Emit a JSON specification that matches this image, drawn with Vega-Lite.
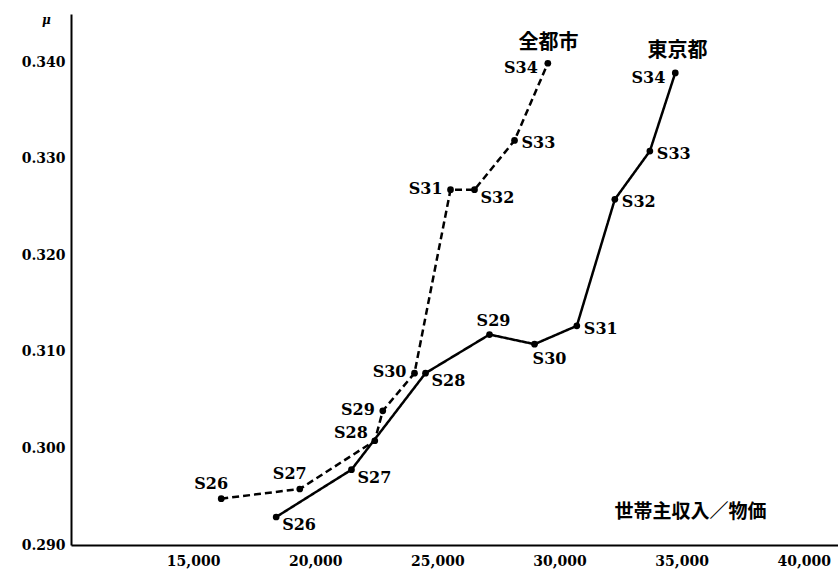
{
  "$schema": "https://vega.github.io/schema/vega-lite/v6.json",
  "width": 767,
  "height": 531,
  "autosize": {"type": "none"},
  "padding": {"left": 71, "top": 14, "right": 0, "bottom": 31},
  "background": "white",
  "config": {
    "view": {"stroke": null},
    "axis": {
      "grid": false,
      "domainColor": "black",
      "domainWidth": 2,
      "ticks": false,
      "labelColor": "black",
      "labelFont": "DejaVu Serif",
      "labelFontWeight": "bold",
      "labelFontSize": 14
    },
    "text": {"font": "DejaVu Serif", "fontWeight": "bold", "fontSize": 16, "color": "black", "baseline": "middle"}
  },
  "datasets": {
    "income": [
      {"series": "全都市", "year": "S26", "income": 16150, "mu": 0.2948},
      {"series": "全都市", "year": "S27", "income": 19365, "mu": 0.2958},
      {"series": "全都市", "year": "S28", "income": 22437, "mu": 0.3008},
      {"series": "全都市", "year": "S29", "income": 22764, "mu": 0.3039},
      {"series": "全都市", "year": "S30", "income": 24062, "mu": 0.3078},
      {"series": "全都市", "year": "S31", "income": 25537, "mu": 0.3268},
      {"series": "全都市", "year": "S32", "income": 26519, "mu": 0.3268},
      {"series": "全都市", "year": "S33", "income": 28157, "mu": 0.3319},
      {"series": "全都市", "year": "S34", "income": 29521, "mu": 0.3399},
      {"series": "東京都", "year": "S26", "income": 18399, "mu": 0.2929},
      {"series": "東京都", "year": "S27", "income": 21482, "mu": 0.2978},
      {"series": "東京都", "year": "S28", "income": 24513, "mu": 0.3078},
      {"series": "東京都", "year": "S29", "income": 27133, "mu": 0.3118},
      {"series": "東京都", "year": "S30", "income": 28976, "mu": 0.3108},
      {"series": "東京都", "year": "S31", "income": 30708, "mu": 0.3127},
      {"series": "東京都", "year": "S32", "income": 32264, "mu": 0.3258},
      {"series": "東京都", "year": "S33", "income": 33698, "mu": 0.3308},
      {"series": "東京都", "year": "S34", "income": 34738, "mu": 0.3389}
    ],
    "names": [
      {"name": "全都市", "income": 29550, "mu": 0.3420},
      {"name": "東京都", "income": 34831, "mu": 0.3412}
    ],
    "xticks": [
      {"income": 15000}, {"income": 20000}, {"income": 25000},
      {"income": 30000}, {"income": 35000}, {"income": 40000}
    ],
    "yticks": [
      {"mu": 0.30}, {"mu": 0.31}, {"mu": 0.32}, {"mu": 0.33}, {"mu": 0.34}
    ]
  },
  "encoding": {
    "x": {
      "field": "income", "type": "quantitative",
      "scale": {"domain": [10000, 41400], "nice": false, "zero": false},
      "axis": {
        "values": [15000, 20000, 25000, 30000, 35000, 40000],
        "format": ",d",
        "labelPadding": 9,
        "title": "世帯主収入／物価",
        "titleFont": "Noto Sans CJK JP",
        "titleFontWeight": "bold",
        "titleFontSize": 19,
        "titleColor": "black",
        "titleX": 619,
        "titleY": -34,
        "titleAlign": "center",
        "titleBaseline": "middle"
      }
    },
    "y": {
      "field": "mu", "type": "quantitative",
      "scale": {"domain": [0.29, 0.345], "nice": false, "zero": false},
      "axis": {
        "values": [0.29, 0.30, 0.31, 0.32, 0.33, 0.34],
        "format": ".3f",
        "labelPadding": 6,
        "title": "μ",
        "titleFont": "DejaVu Serif",
        "titleFontStyle": "italic",
        "titleFontWeight": "bold",
        "titleFontSize": 12,
        "titleColor": "black",
        "titleAngle": 0,
        "titleX": -25,
        "titleY": 5,
        "titleAlign": "center",
        "titleBaseline": "middle"
      }
    }
  },
  "layer": [
    {
      "data": {"name": "xticks"},
      "mark": {"type": "rule", "strokeWidth": 2, "color": "black"},
      "encoding": {"y": {"datum": 0.29}, "y2": {"datum": 0.29085}}
    },
    {
      "data": {"name": "yticks"},
      "mark": {"type": "rule", "strokeWidth": 2, "color": "black"},
      "encoding": {"x": {"datum": 10000}, "x2": {"datum": 10330}}
    },
    {
      "data": {"name": "income"},
      "mark": {"type": "line", "color": "black", "strokeWidth": 2.5},
      "encoding": {
        "detail": {"field": "series"},
        "order": {"field": "year"},
        "strokeDash": {
          "field": "series", "type": "nominal",
          "scale": {"domain": ["全都市", "東京都"], "range": [[7, 4], [1, 0]]},
          "legend": null
        }
      }
    },
    {
      "data": {"name": "income"},
      "mark": {"type": "circle", "color": "black", "opacity": 1, "size": 45}
    },
    {
      "data": {"name": "income"},
      "transform": [{"filter": "(datum.series === '東京都' && indexof(['S26','S27','S28'], datum.year) >= 0) || (datum.series === '全都市' && datum.year === 'S32')"}],
      "mark": {"type": "text", "align": "left", "dx": 6, "dy": 8},
      "encoding": {"text": {"field": "year"}}
    },
    {
      "data": {"name": "income"},
      "transform": [{"filter": "(datum.series === '東京都' && indexof(['S31','S32','S33'], datum.year) >= 0) || (datum.series === '全都市' && datum.year === 'S33')"}],
      "mark": {"type": "text", "align": "left", "dx": 7, "dy": 3},
      "encoding": {"text": {"field": "year"}}
    },
    {
      "data": {"name": "income"},
      "transform": [{"filter": "datum.series === '全都市' && indexof(['S29','S30','S31'], datum.year) >= 0"}],
      "mark": {"type": "text", "align": "right", "dx": -8, "dy": -1},
      "encoding": {"text": {"field": "year"}}
    },
    {
      "data": {"name": "income"},
      "transform": [{"filter": "datum.year === 'S34'"}],
      "mark": {"type": "text", "align": "right", "dx": -10, "dy": 5},
      "encoding": {"text": {"field": "year"}}
    },
    {
      "data": {"name": "income"},
      "transform": [{"filter": "datum.series === '全都市' && datum.year === 'S28'"}],
      "mark": {"type": "text", "align": "right", "dx": -7, "dy": -8},
      "encoding": {"text": {"field": "year"}}
    },
    {
      "data": {"name": "income"},
      "transform": [{"filter": "datum.series === '全都市' && indexof(['S26','S27'], datum.year) >= 0"}],
      "mark": {"type": "text", "align": "center", "dx": -10, "dy": -15},
      "encoding": {"text": {"field": "year"}}
    },
    {
      "data": {"name": "income"},
      "transform": [{"filter": "datum.series === '東京都' && datum.year === 'S29'"}],
      "mark": {"type": "text", "align": "center", "dx": 4, "dy": -14},
      "encoding": {"text": {"field": "year"}}
    },
    {
      "data": {"name": "income"},
      "transform": [{"filter": "datum.series === '東京都' && datum.year === 'S30'"}],
      "mark": {"type": "text", "align": "center", "dx": 15, "dy": 15},
      "encoding": {"text": {"field": "year"}}
    },
    {
      "data": {"name": "names"},
      "mark": {"type": "text", "font": "Noto Sans CJK JP", "fontWeight": "bold", "fontSize": 20, "align": "center"},
      "encoding": {"text": {"field": "name"}}
    }
  ]
}
